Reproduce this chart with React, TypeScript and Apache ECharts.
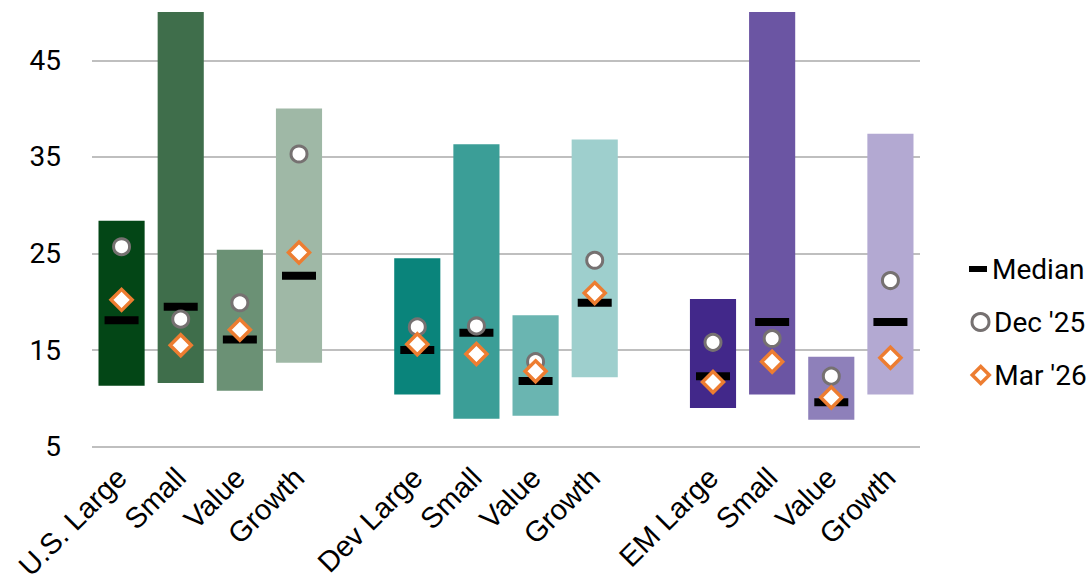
import React, { useEffect, useRef } from "react";
import * as echarts from "echarts";

// Category slots; empty strings separate the U.S., developed and emerging groups
const categories = [
  "U.S. Large", "Small", "Value", "Growth", "",
  "Dev Large", "Small", "Value", "Growth", "",
  "EM Large", "Small", "Value", "Growth",
];

// Historical range of each category (low / high)
const rangeLow = [11.3, 11.6, 10.8, 13.7, null, 10.4, 7.9, 8.2, 12.2, null, 9.0, 10.4, 7.8, 10.4];
const rangeHigh = [28.4, 55, 25.4, 40.0, null, 24.5, 36.3, 18.6, 36.8, null, 20.3, 55, 14.3, 37.4];

// Point readings
const median = [18.1, 19.5, 16.1, 22.7, null, 15.0, 16.8, 11.8, 19.9, null, 12.3, 17.9, 9.6, 17.9];
const dec25 = [25.7, 18.2, 19.9, 35.3, null, 17.4, 17.5, 13.8, 24.3, null, 15.8, 16.2, 12.3, 22.2];
const mar26 = [20.2, 15.5, 17.1, 25.1, null, 15.6, 14.6, 12.8, 20.9, null, 11.7, 13.8, 10.1, 14.2];

const yTicks = [5, 15, 25, 35, 45];

const barColors = [
  "#034616", "#3f6e4b", "#6b9175", "#9fb8a6", "transparent",
  "#0a847b", "#3b9e97", "#6ab5b1", "#9ecfcd", "transparent",
  "#42288a", "#6b55a3", "#8e80ba", "#b3a9d2",
];

const GREY = "#767171";
const ORANGE = "#ED7D31";

const orEmpty = (v: number | null) => (v === null ? "-" : v);

export default function App() {
  const ref = useRef<HTMLDivElement>(null);

  useEffect(() => {
    if (!ref.current) return;
    const chart = echarts.init(ref.current, undefined, { renderer: "svg" });

    const legendText = {
      fontFamily: "Roboto",
      fontSize: 28,
      color: "#000",
      lineHeight: 30,
    };

    chart.setOption({
      animation: false,
      grid: {
        left: 92,
        right: 170,
        top: 12,
        bottom: 139.3,
        containLabel: false,
        outerBoundsMode: "none",
      },
      xAxis: {
        type: "category",
        data: categories,
        axisLine: { show: false },
        axisTick: { show: false },
        axisLabel: {
          interval: 0,
          rotate: 45,
          margin: 26,
          fontFamily: "Liberation Sans",
          fontSize: 29,
          color: "#000",
        },
      },
      yAxis: {
        type: "value",
        min: 5,
        max: 50,
        axisLine: { show: false },
        axisTick: { show: false, customValues: yTicks },
        axisLabel: {
          customValues: yTicks,
          margin: 31,
          fontFamily: "Roboto",
          fontSize: 28,
          color: "#000",
        },
        splitLine: { show: true, lineStyle: { color: "#bfbfbf", width: 2 } },
      },
      legend: [
        {
          data: [{ name: "Median", icon: "rect", itemStyle: { color: "#000", borderWidth: 0, opacity: 1 } }],
          left: 969,
          top: 254,
          padding: 0,
          itemWidth: 18,
          itemHeight: 6,
          textStyle: legendText,
        },
        {
          data: [{ name: "Dec '25", icon: "circle", itemStyle: { color: "#fff", borderColor: GREY, borderWidth: 3, opacity: 1 } }],
          left: 970.5,
          top: 307,
          padding: 0,
          itemWidth: 17,
          itemHeight: 17,
          textStyle: legendText,
        },
        {
          data: [{ name: "Mar '26", icon: "diamond", itemStyle: { color: "#fff", borderColor: ORANGE, borderWidth: 3.5, opacity: 1 } }],
          left: 970.5,
          top: 360,
          padding: 0,
          itemWidth: 17,
          itemHeight: 17,
          textStyle: legendText,
        },
      ],
      series: [
        {
          name: "base",
          type: "bar",
          stack: "range",
          barCategoryGap: "22%",
          silent: true,
          itemStyle: { color: "transparent" },
          data: rangeLow.map(orEmpty),
        },
        {
          name: "range",
          type: "bar",
          stack: "range",
          barCategoryGap: "22%",
          clip: true,
          data: rangeHigh.map((h, i) => {
            const l = rangeLow[i];
            if (h === null || l === null) return "-";
            return { value: +(h - l).toFixed(2), itemStyle: { color: barColors[i] } };
          }),
        },
        {
          name: "Median",
          type: "scatter",
          symbol: "rect",
          symbolSize: [34, 8],
          itemStyle: { color: "#000", opacity: 1 },
          z: 3,
          data: median.map(orEmpty),
        },
        {
          name: "Dec '25",
          type: "scatter",
          symbol: "circle",
          symbolSize: 16,
          itemStyle: { color: "#fff", borderColor: GREY, borderWidth: 3, opacity: 1 },
          z: 4,
          data: dec25.map(orEmpty),
        },
        {
          name: "Mar '26",
          type: "scatter",
          symbol: "diamond",
          symbolSize: 21,
          itemStyle: { color: "#fff", borderColor: ORANGE, borderWidth: 3.5, opacity: 1 },
          z: 5,
          data: mar26.map(orEmpty),
        },
      ],
    });

    return () => chart.dispose();
  }, []);

  return (
    <div
      ref={ref}
      style={{ position: "fixed", left: 0, top: 0, width: 1090, height: 586, background: "#fff" }}
    />
  );
}
